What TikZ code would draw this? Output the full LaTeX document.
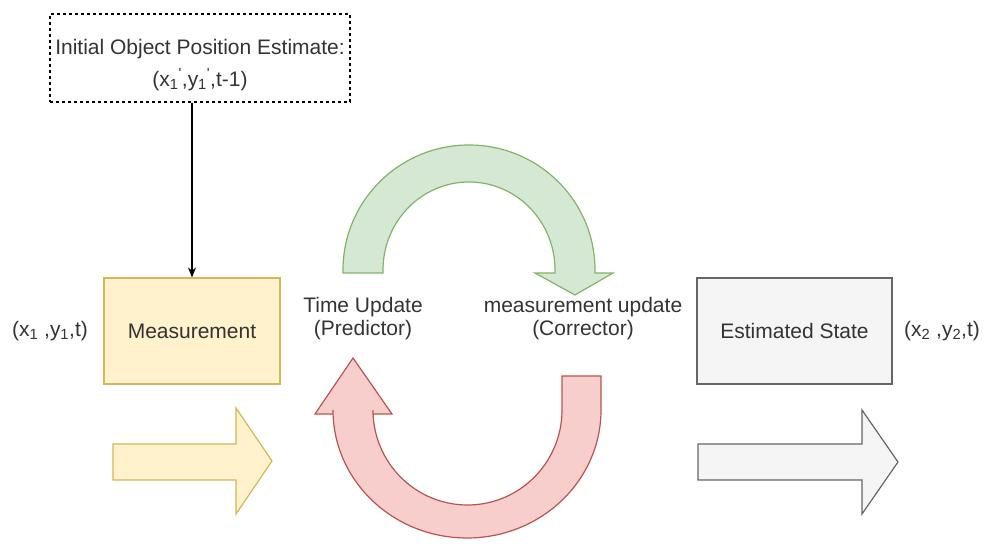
\documentclass[tikz,border=0pt]{standalone}
\usepackage{fontspec}
\setmainfont{Liberation Sans}
\usetikzlibrary{arrows.meta}
\definecolor{txtgray}{HTML}{333333}
\definecolor{yelfill}{HTML}{FFF2CC}
\definecolor{yelline}{HTML}{D6B656}
\definecolor{grnfill}{HTML}{D5E8D4}
\definecolor{grnline}{HTML}{82B366}
\definecolor{redfill}{HTML}{F8CECC}
\definecolor{redline}{HTML}{B85450}
\definecolor{gryfill}{HTML}{F5F5F5}
\definecolor{gryline}{HTML}{666666}

\begin{document}
\begin{tikzpicture}[x=1pt,y=1pt,
        every node/.style={font=\fontsize{21}{23}\selectfont, text=txtgray, align=center},
        box/.style={draw, line width=1.2pt, minimum height=106pt, inner sep=0pt},
        >={Stealth[length=10pt,width=8pt]}]
        \useasboundingbox (0,0) rectangle (988,546);

        \node[draw, dash pattern=on 3pt off 3pt, line width=1.1pt, minimum width=300pt, minimum height=88pt] (init) at (200,488) {};
        \node (inittxt) at (200,481)
            {Initial Object Position Estimate:\\[9pt](x\textsubscript{1}\textsuperscript{\textquotesingle},y\textsubscript{1}\textsuperscript{\textquotesingle},t-1)};
        \node[box, draw=yelline, fill=yelfill, minimum width=176pt] (meas) at (192,215) {Measurement};
        \node[box, draw=gryline, fill=gryfill, minimum width=195pt] (est) at (794.5,215) {Estimated State};
        \node (xa) at (50,215) {(x\textsubscript{1} ,y\textsubscript{1},t)};
        \node (xb) at (942,215) {(x\textsubscript{2} ,y\textsubscript{2},t)};
        \node (tu) at (363,227) {Time Update\\(Predictor)};
        \node (mu) at (583,227) {measurement update\\(Corrector)};

        \draw[->, line width=1.2pt] (init.south -| meas.north) -- (meas.north);

        \draw[draw=yelline, fill=yelfill, line width=1.2pt]
            (113,66) -- (236,66) -- (236,32) -- (272,85) -- (236,138) -- (236,102) -- (113,102) -- cycle;
        \draw[draw=gryline, fill=gryfill, line width=1.2pt]
            (698,66) -- (862,66) -- (862,32) -- (898,84) -- (862,136) -- (862,102) -- (698,102) -- cycle;

        \draw[draw=grnline, fill=grnfill, line width=1.2pt]
            (343,273) -- (343,276) arc[start angle=180, end angle=0, x radius=126, y radius=125]
            -- (595,273) -- (613,273) -- (575,251) -- (535,273) -- (555,273) -- (555,276)
            arc[start angle=0, end angle=180, x radius=86, y radius=88] -- (383,273) -- cycle;
        \draw[draw=redline, fill=redfill, line width=1.2pt]
            (601,170) -- (601,136) arc[start angle=0, end angle=-180, x radius=134, y radius=128]
            -- (333,132) -- (315,132) -- (353,188) -- (392,132) -- (373,132) -- (373,136)
            arc[start angle=180, end angle=360, x radius=94.5, y radius=95] -- (562,170) -- cycle;
    \end{tikzpicture}
\end{document}
